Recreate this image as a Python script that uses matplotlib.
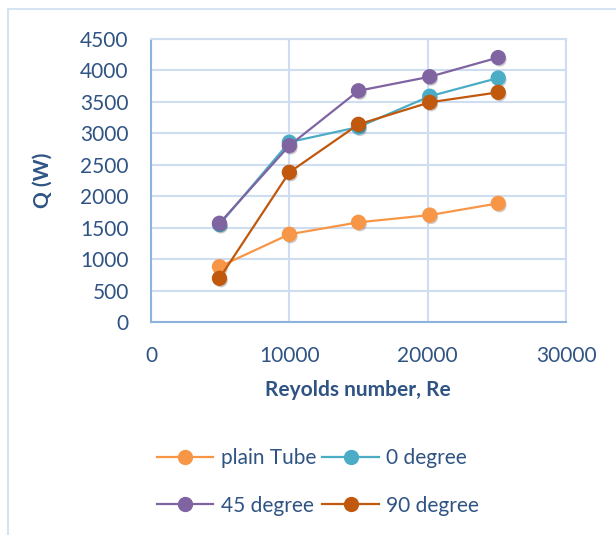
import numpy as np
import matplotlib.pyplot as plt
import matplotlib.patheffects as pe
from matplotlib.patches import Rectangle
from matplotlib.lines import Line2D

# Reynolds numbers and heat transfer rate Q (W) for each tube insert
re_vals = [4950, 10000, 15000, 20150, 25100]
q_plain = [880, 1395, 1585, 1700, 1887]
q_0deg = [1550, 2860, 3100, 3590, 3880]
q_45deg = [1570, 2805, 3677, 3900, 4205]
q_90deg = [695, 2380, 3143, 3493, 3652]

labels = ['plain Tube', '0 degree', '45 degree', '90 degree']
colors = ['#F79646', '#4BACC6', '#8064A2', '#C0580E']

txt = '#2F5383'
grid_c = '#CFDDF0'
axis_c = '#8EB1DD'

plt.rcParams['font.family'] = ['Lato', 'DejaVu Sans']

fig = plt.figure(figsize=(6.16, 5.35), dpi=100)
ax = fig.add_axes([151/616, 1-322/535, (566-151)/616, (322-39)/535])

# outer chart frame
fig.patches.append(Rectangle((8/616, -0.05), 1.1, 1-9/535+0.05, transform=fig.transFigure,
                             fill=False, edgecolor='#D5E3F3', linewidth=1.5))

shadow = [pe.SimplePatchShadow(offset=(1.0, -1.5), alpha=0.25), pe.Normal()]
series = [q_plain, q_0deg, q_45deg, q_90deg]
order = [0, 3, 1, 2]
for i in order:
    ax.plot(re_vals, series[i], '-', color=colors[i], lw=1.6, zorder=3 + i)
    ax.plot(re_vals, series[i], 'o', color=colors[i], markersize=10,
            zorder=3 + i, path_effects=shadow)

ax.set_xlim(0, 30000)
ax.set_ylim(0, 4500)
ax.set_xticks(np.arange(0, 30001, 10000))
ax.set_yticks(np.arange(0, 4501, 500))
ax.grid(True, color=grid_c, linewidth=1.5)
ax.set_axisbelow(True)
for s in ['top', 'right']:
    ax.spines[s].set_color(grid_c)
    ax.spines[s].set_linewidth(1.5)
for s in ['left', 'bottom']:
    ax.spines[s].set_color(axis_c)
    ax.spines[s].set_linewidth(1.5)
ax.tick_params(length=0, labelsize=15, labelcolor=txt, pad=16)
ax.tick_params(axis='x', pad=17)

ax.set_xlabel('Reyolds number, Re', fontsize=15, fontweight='bold', color=txt)
ax.set_ylabel('Q (W)', fontsize=15, fontweight='bold', color=txt)
ax.xaxis.set_label_coords(0.499, -0.205)
ax.yaxis.set_label_coords(-0.237, 0.5)

handles = [Line2D([], [], color=c, lw=1.6, marker='o', markersize=10) for c in colors]
# row-wise order: plain / 0, then 45 / 90
leg_idx = [0, 2, 1, 3]
leg = fig.legend([handles[i] for i in leg_idx], [labels[i] for i in leg_idx],
                 ncol=2, loc='center', bbox_to_anchor=(318/616, 1-482/535),
                 frameon=False, fontsize=15, labelcolor=txt, handlelength=2.7,
                 handletextpad=0.35, columnspacing=0.3, labelspacing=1.3)

fig.savefig('out.png', dpi=100)
